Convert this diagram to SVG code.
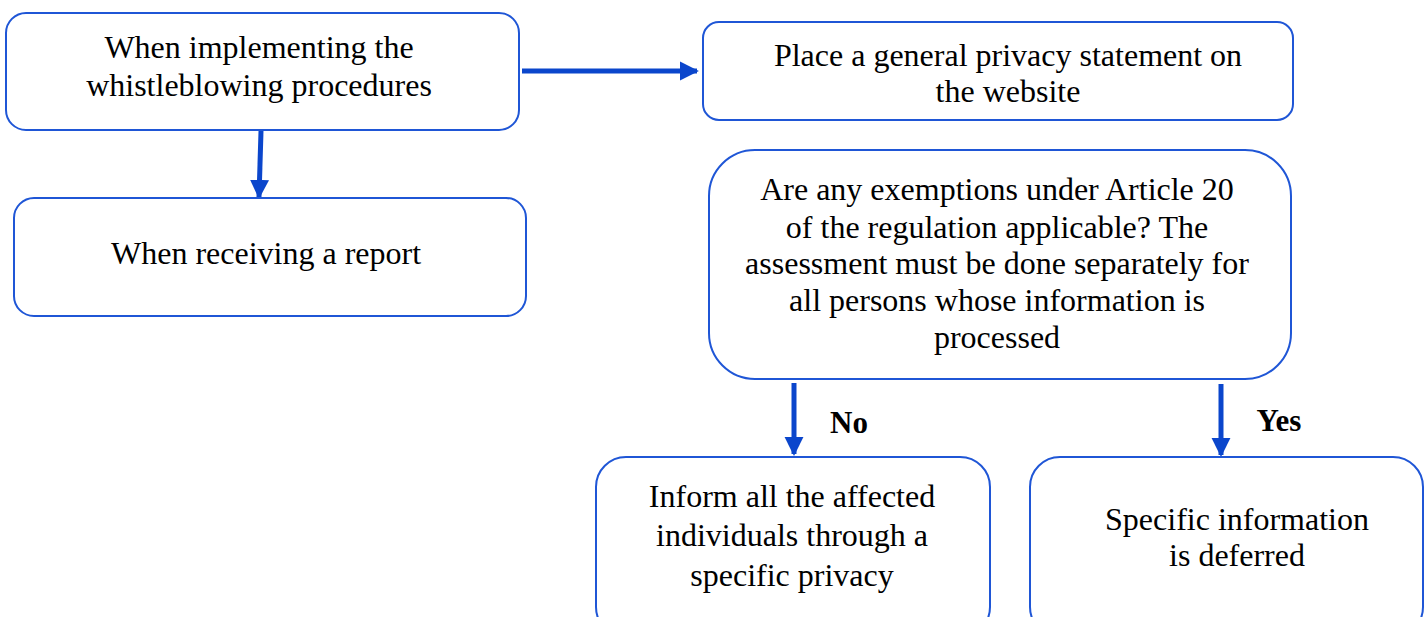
<svg xmlns="http://www.w3.org/2000/svg" width="1428" height="617" viewBox="0 0 1428 617">
<defs>
<style>
.box{fill:#fff;stroke:#1f56d6;stroke-width:2}
.t{font-family:"Liberation Serif","Times New Roman",serif;font-size:32px;fill:#000;text-anchor:middle}
.lb{font-family:"Liberation Serif","Times New Roman",serif;font-size:31px;font-weight:bold;fill:#000;text-anchor:middle}
.arr{stroke:#0b46cc;stroke-width:5;fill:none}
</style>
<marker id="ah" viewBox="0 0 10 10" refX="9" refY="5" markerWidth="3.8" markerHeight="4" markerUnits="strokeWidth" orient="auto">
<path d="M0,0 L10,5 L0,10 Z" fill="#0b46cc"/>
</marker>
</defs>
<rect width="1428" height="617" fill="#fff"/>
<g id="connectors">
<path class="arr" d="M522,71 L697,71" marker-end="url(#ah)"/>
<path class="arr" d="M261,131 L259,197" marker-end="url(#ah)"/>
<path class="arr" d="M794,383 L794,454" marker-end="url(#ah)"/>
<path class="arr" d="M1221,384 L1221,455" marker-end="url(#ah)"/>
</g>
<g id="n1">
<rect class="box" x="6" y="13" width="513" height="117" rx="20"/>
<text class="t" x="259" y="58">When implementing the</text>
<text class="t" x="259" y="96">whistleblowing procedures</text>
</g>
<g id="n2">
<rect class="box" x="703" y="22" width="590" height="98" rx="16"/>
<text class="t" x="1008" y="66">Place a general privacy statement on</text>
<text class="t" x="1008" y="102">the website</text>
</g>
<g id="n3">
<rect class="box" x="14" y="198" width="512" height="118" rx="20"/>
<text class="t" x="266" y="264">When receiving a report</text>
</g>
<g id="n4">
<rect class="box" x="709" y="150" width="582" height="229" rx="46"/>
<text class="t" x="997" y="200">Are any exemptions under Article 20</text>
<text class="t" x="997" y="238">of the regulation applicable? The</text>
<text class="t" x="997" y="274">assessment must be done separately for</text>
<text class="t" x="997" y="311">all persons whose information is</text>
<text class="t" x="997" y="348">processed</text>
</g>
<g id="n5">
<rect class="box" x="596" y="457" width="394" height="180" rx="30"/>
<text class="t" x="792" y="507">Inform all the affected</text>
<text class="t" x="792" y="546">individuals through a</text>
<text class="t" x="792" y="586">specific privacy</text>
</g>
<g id="n6">
<rect class="box" x="1030" y="457" width="393" height="180" rx="30"/>
<text class="t" x="1237" y="530">Specific information</text>
<text class="t" x="1237" y="566">is deferred</text>
</g>
<g id="labels">
<text class="lb" x="849" y="433">No</text>
<text class="lb" x="1279" y="431">Yes</text>
</g>
</svg>
